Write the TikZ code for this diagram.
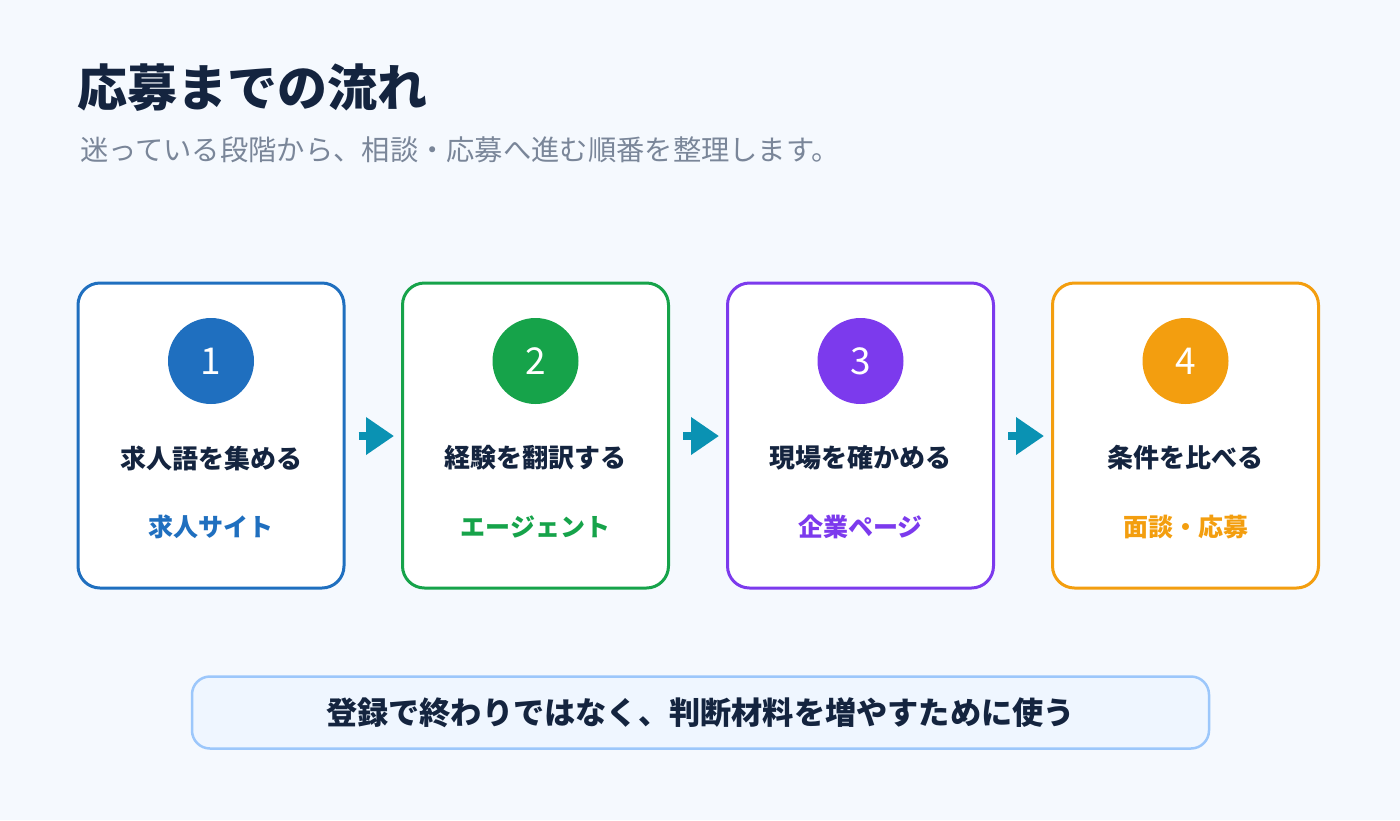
\documentclass[tikz,border=0pt]{standalone}
\usepackage{fontspec}
\setmainfont{Noto Sans CJK JP}
\usetikzlibrary{arrows.meta}
\definecolor{bg}{HTML}{F5F9FE}
\definecolor{navy}{HTML}{14243F}
\definecolor{subgray}{HTML}{7A8699}
\definecolor{cblue}{HTML}{1F6FBF}
\definecolor{cgreen}{HTML}{16A34A}
\definecolor{cpurple}{HTML}{7C3AED}
\definecolor{corange}{HTML}{F39E0F}
\definecolor{teal}{HTML}{0A92B3}
\definecolor{notefill}{HTML}{EFF6FF}
\definecolor{noteline}{HTML}{9CC7FB}
\tikzset{
  card/.style={draw=#1, line width=3pt, fill=white, rounded corners=22pt, minimum width=266pt, minimum height=305pt, inner sep=0pt},
  numcirc/.style={circle, fill=#1, minimum size=86pt, inner sep=0pt, text=white, font=\fontsize{37}{40}\selectfont},
  steptext/.style={text=navy, font=\bfseries\fontsize{26}{29}\selectfont},
  tooltext/.style={text=#1, font=\bfseries\fontsize{25}{28}\selectfont},
  flowarrow/.style={draw=teal, line width=8pt, -{Triangle[length=28pt,width=36pt]}, shorten <=13pt, shorten >=7pt},
}
\begin{document}
\begin{tikzpicture}[x=1pt,y=-1pt]
\fill[bg] (0,0) rectangle (1400,820);
\useasboundingbox (0,0) rectangle (1400,820);
\node[anchor=west, inner sep=0pt, text=navy, font=\bfseries\fontsize{50}{54}\selectfont] (title) at (77,88) {応募までの流れ};
\node[anchor=west, inner sep=0pt, text=subgray, font=\fontsize{28.3}{31}\selectfont] (subtitle) at (80,150) {迷っている段階から、相談・応募へ進む順番を整理します。};

\node[card=cblue] (c1) at (211,435.5) {};
\node[card=cgreen] (c2) at (535.5,435.5) {};
\node[card=cpurple] (c3) at (860.5,435.5) {};
\node[card=corange] (c4) at (1185.5,435.5) {};

\node[numcirc=cblue] (n1) at (211,361) {1};
\node[numcirc=cgreen] (n2) at (535.5,361) {2};
\node[numcirc=cpurple] (n3) at (860.5,361) {3};
\node[numcirc=corange] (n4) at (1185.5,361) {4};

\node[steptext] (s1) at (211,458) {求人語を集める};
\node[steptext] (s2) at (535.5,458) {経験を翻訳する};
\node[steptext] (s3) at (860.5,458) {現場を確かめる};
\node[steptext] (s4) at (1185.5,458) {条件を比べる};

\node[tooltext=cblue] (t1) at (211,527) {求人サイト};
\node[tooltext=cgreen] (t2) at (535.5,527) {エージェント};
\node[tooltext=cpurple] (t3) at (860.5,527) {企業ページ};
\node[tooltext=corange] (t4) at (1185.5,527) {面談・応募};

\draw[flowarrow] (c1.east |- 0,436) -- (c2.west |- 0,436);
\draw[flowarrow] (c2.east |- 0,436) -- (c3.west |- 0,436);
\draw[flowarrow] (c3.east |- 0,436) -- (c4.west |- 0,436);

\node[draw=noteline, line width=2.5pt, fill=notefill, rounded corners=18pt, minimum width=1017pt, minimum height=72pt, inner sep=0pt, text=navy, font=\bfseries\fontsize{31.2}{34}\selectfont] (note) at (700.5,712.5) {登録で終わりではなく、判断材料を増やすために使う};
\end{tikzpicture}
\end{document}
